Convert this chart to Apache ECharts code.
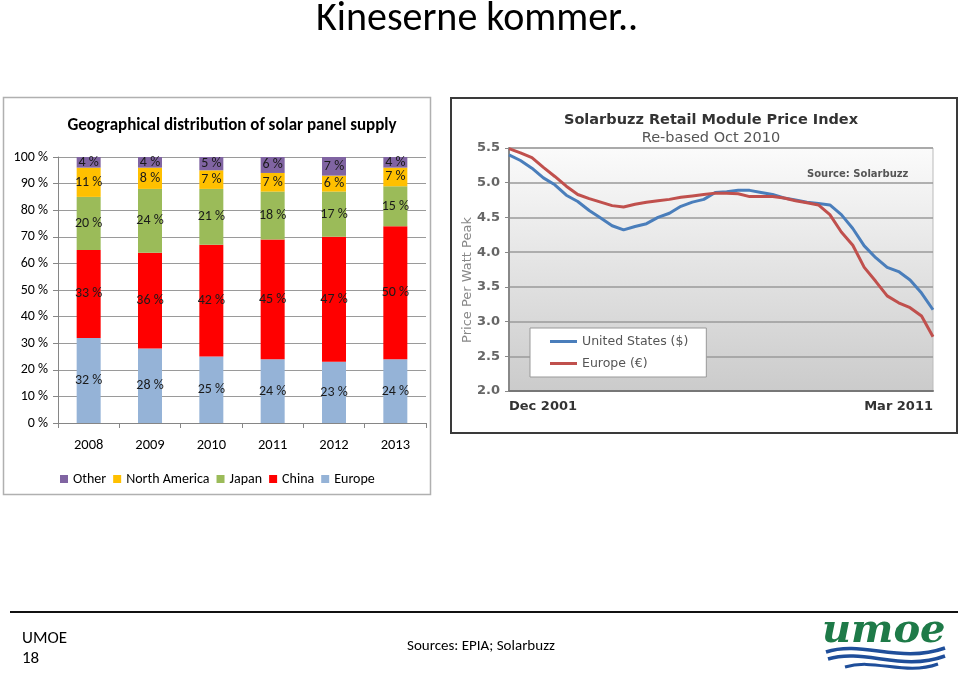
<!DOCTYPE html>
<html>
<head>
<meta charset="utf-8">
<title>Kineserne kommer..</title>
<script src="https://cdn.jsdelivr.net/npm/echarts@6/dist/echarts.min.js"></script>
<style>
  html, body { margin: 0; padding: 0; background: #fff; }
  #main { width: 960px; height: 674px; }
</style>
</head>
<body>
<div id="main"></div>
<script>
// supply share per region, % (EPIA)
const years = ['2008', '2009', '2010', '2011', '2012', '2013'];
const europe = [32, 28, 25, 24, 23, 24];
const china = [33, 36, 42, 45, 47, 50];
const japan = [20, 24, 21, 18, 17, 15];
const northAmerica = [11, 8, 7, 7, 6, 7];
const other = [4, 4, 5, 6, 7, 4];

// Solarbuzz module price index, months after Dec 2001
const priceMonths = [0, 3, 6, 9, 12, 15, 18, 21, 24, 27, 30, 33, 36, 39, 42, 45, 48, 51, 54,
    57, 60, 63, 66, 69, 72, 75, 78, 81, 84, 87, 90, 93, 96, 99, 102, 105, 108, 111];
const priceUS = [5.40, 5.32, 5.21, 5.07, 4.97, 4.82, 4.73, 4.60, 4.49, 4.38, 4.32, 4.37, 4.41,
    4.50, 4.56, 4.66, 4.72, 4.76, 4.86, 4.87, 4.89, 4.89, 4.86, 4.83, 4.78, 4.75, 4.72, 4.70,
    4.68, 4.54, 4.34, 4.09, 3.92, 3.78, 3.72, 3.60, 3.41, 3.17];
const priceEU = [5.49, 5.43, 5.36, 5.22, 5.09, 4.95, 4.83, 4.77, 4.72, 4.67, 4.65, 4.69, 4.72,
    4.74, 4.76, 4.79, 4.81, 4.83, 4.85, 4.85, 4.84, 4.80, 4.80, 4.80, 4.78, 4.74, 4.71, 4.68,
    4.54, 4.29, 4.10, 3.78, 3.58, 3.37, 3.27, 3.20, 3.08, 2.78];
const priceAxisLabels = ['Dec 2001', 'Mar 2011'];

const slideFont = 'Carlito, Lato, sans-serif';
const sbFont = '"DejaVu Sans", Verdana, sans-serif';

const chart = echarts.init(document.getElementById('main'));

function barSeries(name, data, color) {
    return {
        name: name,
        type: 'bar',
        stack: 'share',
        xAxisIndex: 0,
        yAxisIndex: 0,
        barWidth: 24,
        itemStyle: { color: color },
        label: {
            show: true,
            position: 'inside',
            formatter: '{c} %',
            color: '#1a1a1a',
            fontFamily: slideFont,
            fontSize: 14
        },
        data: data
    };
}

function priceSeries(name, values, color) {
    return {
        name: name,
        type: 'line',
        xAxisIndex: 1,
        yAxisIndex: 1,
        symbol: 'none',
        lineStyle: { color: color, width: 3 },
        itemStyle: { color: color },
        data: priceMonths.map((m, i) => [m, values[i]])
    };
}

chart.setOption({
    animation: false,
    title: [
        {
            text: 'Geographical distribution of solar panel supply',
            left: 227, top: 112, textAlign: 'center',
            textStyle: { fontFamily: slideFont, fontSize: 17, fontWeight: 'bold', color: '#000' }
        },
        {
            text: 'Solarbuzz Retail Module Price Index',
            subtext: 'Re-based Oct 2010',
            left: 706, top: 108, textAlign: 'center', itemGap: 3,
            textStyle: { fontFamily: sbFont, fontSize: 14.5, fontWeight: 'bold', color: '#333' },
            subtextStyle: { fontFamily: sbFont, fontSize: 14.5, color: '#555' }
        }
    ],
    legend: [
        {
            data: ['Other', 'North America', 'Japan', 'China', 'Europe'],
            left: 55, top: 467,
            icon: 'rect', itemWidth: 8, itemHeight: 8, itemGap: 7,
            textStyle: { fontFamily: slideFont, fontSize: 14, color: '#000' }
        },
        {
            data: ['United States ($)', 'Europe (€)'],
            orient: 'vertical',
            left: 530, top: 328,
            icon: 'rect', itemWidth: 27, itemHeight: 3, itemGap: 9,
            padding: [7, 18, 7, 20],
            backgroundColor: '#fff',
            borderColor: '#999', borderWidth: 1,
            textStyle: { fontFamily: sbFont, fontSize: 12.5, color: '#555' }
        }
    ],
    grid: [
        { left: 58, right: 534, top: 157, bottom: 251 },
        {
            left: 509, right: 27, top: 148, bottom: 283, show: true,
            borderColor: '#bbb', borderWidth: 1,
            backgroundColor: new echarts.graphic.LinearGradient(0, 0, 0, 1, [
                { offset: 0, color: '#fbfbfb' },
                { offset: 1, color: '#cbcbcb' }
            ])
        }
    ],
    xAxis: [
        {
            gridIndex: 0, type: 'category', data: years,
            axisLine: { lineStyle: { color: '#868686' } },
            axisTick: { show: true, length: 5, lineStyle: { color: '#868686' } },
            axisLabel: { margin: 15, fontFamily: slideFont, fontSize: 14.5, color: '#000' }
        },
        {
            gridIndex: 1, type: 'value', min: 0, max: 111, interval: 111,
            axisLine: { lineStyle: { color: '#777', width: 2 } },
            axisTick: { show: false },
            splitLine: { show: false },
            axisLabel: {
                margin: 9, fontFamily: sbFont, fontSize: 13, fontWeight: 'bold', color: '#333',
                alignMinLabel: 'left', alignMaxLabel: 'right',
                formatter: v => (v === 0 ? priceAxisLabels[0] : priceAxisLabels[1])
            }
        }
    ],
    yAxis: [
        {
            gridIndex: 0, type: 'value', min: 0, max: 100, interval: 10,
            axisLine: { show: true, lineStyle: { color: '#868686' } },
            axisTick: { show: true, length: 5, lineStyle: { color: '#868686' } },
            splitLine: { lineStyle: { color: '#9a9a9a' } },
            axisLabel: { margin: 10, fontFamily: slideFont, fontSize: 14, color: '#000', formatter: '{value} %' }
        },
        {
            gridIndex: 1, type: 'value', min: 2, max: 5.5, interval: 0.5,
            axisLine: { show: true, lineStyle: { color: '#888', width: 2 } },
            axisTick: { show: true, length: 4, lineStyle: { color: '#888' } },
            splitLine: { lineStyle: { color: '#9a9a9a', width: 1.5 } },
            axisLabel: {
                margin: 9, fontFamily: sbFont, fontSize: 13, fontWeight: 'bold', color: '#666',
                formatter: v => v.toFixed(1)
            }
        }
    ],
    series: [
        barSeries('Europe', europe, '#95b3d7'),
        barSeries('China', china, '#ff0000'),
        barSeries('Japan', japan, '#9bbb59'),
        barSeries('North America', northAmerica, '#ffc000'),
        barSeries('Other', other, '#8064a2'),
        priceSeries('United States ($)', priceUS, '#4a7ebb'),
        priceSeries('Europe (€)', priceEU, '#c0504d')
    ],
    graphic: [
        // slide title
        {
            type: 'text', left: 316, top: 0,
            style: { text: 'Kineserne kommer..', font: '40px ' + slideFont, fill: '#000' }
        },
        // frames round the two charts
        {
            type: 'rect', z: -1, silent: true,
            shape: { x: 3.5, y: 97.5, width: 427, height: 397 },
            style: { fill: 'none', stroke: '#b0b0b0', lineWidth: 1.5 }
        },
        {
            type: 'rect', z: -1, silent: true,
            shape: { x: 451, y: 98, width: 506, height: 335 },
            style: { fill: 'none', stroke: '#3a3a3a', lineWidth: 2 }
        },
        {
            type: 'text', left: 807, top: 169,
            style: { text: 'Source: Solarbuzz', font: 'bold 10px ' + sbFont, fill: '#555' }
        },
        // y axis name of the price chart, sits a bit below the middle
        {
            type: 'text', x: 468, y: 280, rotation: Math.PI / 2,
            style: {
                text: 'Price Per Watt Peak', font: '13px ' + sbFont, fill: '#888',
                align: 'center', verticalAlign: 'middle'
            }
        },
        // footer
        {
            type: 'line', silent: true,
            shape: { x1: 10, y1: 612, x2: 958, y2: 612 },
            style: { stroke: '#111', lineWidth: 2 }
        },
        {
            type: 'text', left: 22, top: 629,
            style: { text: 'UMOE\n18', font: '17px ' + slideFont, fill: '#000', lineHeight: 20 }
        },
        {
            type: 'text', left: 407, top: 639,
            style: { text: 'Sources: EPIA; Solarbuzz', font: '15px ' + slideFont, fill: '#000' }
        },
        // umoe logo
        {
            type: 'text', left: 822, top: 612,
            style: { text: 'umoe', font: 'italic bold 40px "DejaVu Serif", serif', fill: '#1e7a48' }
        },
        {
            type: 'bezierCurve', silent: true,
            shape: { x1: 826, y1: 652, cpx1: 862, cpy1: 640, cpx2: 900, cpy2: 664, x2: 945, y2: 648 },
            style: { stroke: '#1f4e9a', lineWidth: 3.5, fill: 'none' }
        },
        {
            type: 'bezierCurve', silent: true,
            shape: { x1: 828, y1: 659, cpx1: 864, cpy1: 648, cpx2: 902, cpy2: 672, x2: 945, y2: 656 },
            style: { stroke: '#1f4e9a', lineWidth: 3.5, fill: 'none' }
        },
        {
            type: 'bezierCurve', silent: true,
            shape: { x1: 845, y1: 667, cpx1: 875, cpy1: 658, cpx2: 905, cpy2: 676, x2: 938, y2: 664 },
            style: { stroke: '#1f4e9a', lineWidth: 3, fill: 'none' }
        }
    ]
});
</script>
</body>
</html>
